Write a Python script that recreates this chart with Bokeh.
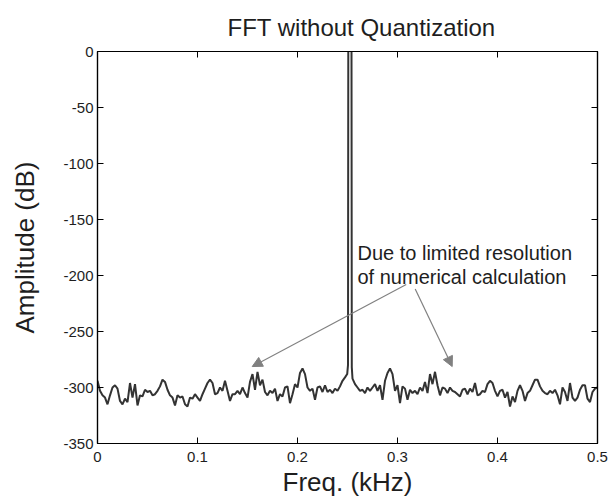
from bokeh.plotting import figure
from bokeh.models import (Range1d, FixedTicker, LinearAxis, Label, Arrow, NormalHead,
                          ColumnDataSource, Title, CustomLabelingPolicy, CustomJSTickFormatter)
from bokeh.embed import file_html
from bokeh.resources import INLINE

# ---- data ----
bin_step = 0.0025
noise_left = [
    -294, -303, -307, -309, -315, -307, -300, -298, -301, -312,
    -315, -310, -313, -296, -309, -297, -316, -307, -308, -302,
    -304, -303, -307, -306, -303, -299, -293, -295, -302, -307,
    -309, -316, -307, -309, -308, -315, -317, -309, -310, -306,
    -309, -312, -306, -301, -296, -293, -296, -306, -305, -300,
    -303, -294, -303, -312, -306, -306, -303, -306, -300, -305,
    -309, -295, -288, -302, -286, -298, -293, -304, -307, -303,
    -305, -301, -312, -306, -308, -300, -299, -314, -306, -297,
    -300, -287, -283, -288, -300, -303, -301, -311, -300, -299,
    -304, -298, -304, -302, -305, -301, -303, -299, -294, -291,
]
spike_freq = [0.2497, 0.2505, 0.2508, 0.2540, 0.2543]
spike_amp = [-288, -280, 5, 5, -282]
noise_right = [
    -292, -297, -300, -303, -302, -305, -300, -303, -300, -297,
    -303, -298, -311, -294, -287, -283, -288, -303, -298, -314,
    -299, -301, -311, -302, -305, -303, -306, -300, -303, -295,
    -305, -288, -297, -286, -298, -307, -300, -301, -305, -300,
    -303, -304, -306, -308, -302, -301, -306, -301, -304, -296,
    -307, -306, -303, -304, -297, -294, -296, -303, -308, -303,
    -302, -309, -304, -317, -308, -313, -303, -298, -303, -312,
    -305, -303, -298, -293, -293, -299, -303, -305, -306, -303,
    -305, -302, -307, -315, -300, -304, -312, -296, -309, -312,
    -309, -302, -298, -298, -310, -313, -304, -301, -300,
]
right_start = 0.255

xticks = [0, 0.1, 0.2, 0.3, 0.4, 0.5]
xtick_labels = ["0", "0.1", "0.2", "0.3", "0.4", "0.5"]
yticks = [-350, -300, -250, -200, -150, -100, -50, 0]
ytick_labels = ["-350", "-300", "-250", "-200", "-150", "-100", "-50", "0"]

freq = ([i * bin_step for i in range(len(noise_left))] + spike_freq
        + [right_start + k * bin_step for k in range(len(noise_right))])
amp = noise_left + spike_amp + noise_right
src = ColumnDataSource(dict(freq=freq, amp=amp))

FONT = "Liberation Sans"
TXT = "#1e1e1e"

p = figure(width=609, height=501, output_backend="svg", toolbar_location=None,
           x_range=Range1d(0, 0.5), y_range=Range1d(-350, 0),
           min_border_left=97, min_border_right=12, min_border_top=51, min_border_bottom=58,
           background_fill_color="white", border_fill_color="white")
p.xgrid.visible = False
p.ygrid.visible = False
p.outline_line_color = "black"
p.outline_line_width = 1.2

def style(ax, ticks, show_labels):
    ax.ticker = FixedTicker(ticks=ticks)
    ax.minor_tick_line_color = None
    ax.major_tick_in = 6
    ax.major_tick_out = 0
    ax.axis_line_color = "black"
    ax.axis_line_width = 1.2
    ax.major_tick_line_color = "black"
    ax.major_tick_line_width = 1
    if show_labels:
        ax.major_label_text_font = FONT
        ax.major_label_text_font_size = "15px"
        ax.major_label_text_color = TXT
        ax.axis_label_text_font = FONT
        ax.axis_label_text_font_style = "normal"
        ax.axis_label_text_font_size = "26px"
        ax.axis_label_text_color = TXT
    else:
        ax.formatter = CustomJSTickFormatter(code="return ''")
        ax.major_label_policy = CustomLabelingPolicy(code="""
            const all = [...indices]
            for (const i of all) indices.unset(i)
            return indices
        """)
        ax.major_label_standoff = 0

xa = p.xaxis[0]
ya = p.yaxis[0]
style(xa, xticks, True)
style(ya, yticks, True)
xa.major_label_overrides = {t: s for t, s in zip(xticks, xtick_labels)}
ya.major_label_overrides = {t: s for t, s in zip(yticks, ytick_labels)}
xa.axis_label = "Freq. (kHz)"
xa.major_label_standoff = 8
xa.axis_label_standoff = 2
ya.axis_label = "Amplitude (dB)"
ya.major_label_standoff = 4
ya.axis_label_standoff = 20

top = LinearAxis()
style(top, xticks, False)
p.add_layout(top, "above")
right = LinearAxis()
style(right, yticks, False)
p.add_layout(right, "right")

p.add_layout(Title(text="FFT without Quantization", align="left", offset=130,
                   text_font=FONT, text_font_size="24px", text_font_style="normal",
                   text_color=TXT, standoff=22), "above")

p.line("freq", "amp", source=src, line_color="#333333", line_width=2.0)

p.add_layout(Label(x=0.26, y=-179.5, text="Due to limited resolution", text_align="left",
                   text_baseline="alphabetic", text_font=FONT, text_font_size="20px",
                   text_color=TXT))
p.add_layout(Label(x=0.26, y=-201, text="of numerical calculation", text_align="left",
                   text_baseline="alphabetic", text_font=FONT, text_font_size="20px",
                   text_color=TXT))

for xs, ys, xe, ye in [(0.3087, -208.0, 0.1547, -281.3), (0.3177, -212.0, 0.3547, -281.3)]:
    p.add_layout(Arrow(end=NormalHead(size=10, fill_color="#808080", line_color="#808080"),
                       x_start=xs, y_start=ys, x_end=xe, y_end=ye,
                       line_color="#808080", line_width=1.2))

open("out.html", "w").write(file_html(p, INLINE))
